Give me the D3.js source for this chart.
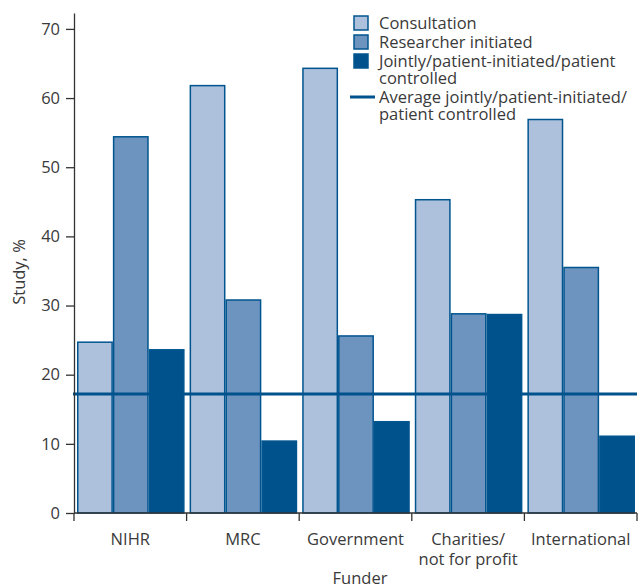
<!DOCTYPE html>
<html>
<head>
<meta charset="utf-8">
<script src="https://cdn.jsdelivr.net/npm/d3@7"></script>
<style>
  body { margin: 0; background: #fff; }
  svg text { font-family: "Open Sans", "DejaVu Sans", sans-serif; fill: #3a3a3a; }
</style>
</head>
<body>
<svg id="chart" width="642" height="588"></svg>
<script>
const funders = ["NIHR", "MRC", "Government", "Charities/\nnot for profit", "International"];
const seriesNames = ["Consultation", "Researcher initiated", "Jointly/patient-initiated/patient controlled"];
const consultation = [24.7, 61.8, 64.3, 45.3, 56.9];
const researcher = [54.4, 30.8, 25.6, 28.8, 35.5];
const jointly = [23.6, 10.4, 13.2, 28.7, 11.1];
const averageJointly = 17.2;
const yTicks = [0, 10, 20, 30, 40, 50, 60, 70];
const legendLabels = [
  ["Consultation"],
  ["Researcher initiated"],
  ["Jointly/patient-initiated/patient", "controlled"],
  ["Average jointly/patient-initiated/", "patient controlled"]
];

const fills = ["#adc0dc", "#6d93bf", "#00528c"];
const strokeCol = "#00558f";
const FS = "16.5px";

const svg = d3.select("#chart");
const x0 = d3.scaleBand().domain(funders).range([74, 637]).paddingInner(0).paddingOuter(0);
const x1 = d3.scaleBand().domain(seriesNames).range([3, x0.bandwidth() - 2]).padding(0);
const y = d3.scaleLinear().domain([0, 72.3]).range([513, 13]);

const series = [consultation, researcher, jointly];
const rows = funders.map((f, i) => ({ f, vals: series.map((s, k) => ({ k, v: s[i] })) }));

// bars
const g = svg.append("g");
g.selectAll("g.grp").data(rows).join("g")
  .attr("transform", d => `translate(${x0(d.f)},0)`)
  .selectAll("rect").data(d => d.vals).join("rect")
  .attr("x", d => x1(seriesNames[d.k]) + 0.75)
  .attr("width", x1.bandwidth() - 1.5)
  .attr("y", d => y(d.v))
  .attr("height", d => y(0) - y(d.v))
  .attr("fill", d => fills[d.k])
  .attr("stroke", strokeCol)
  .attr("stroke-width", 1.5);

// average line
svg.append("line")
  .attr("x1", 73).attr("x2", 637)
  .attr("y1", y(averageJointly)).attr("y2", y(averageJointly))
  .attr("stroke", "#00528c").attr("stroke-width", 3);

// y axis
const yAxis = svg.append("g").attr("transform", "translate(74,0)")
  .call(d3.axisLeft(y).tickValues(yTicks).tickSize(8).tickSizeOuter(0).tickPadding(6));
yAxis.selectAll("text").style("font-size", FS).attr("fill", "#3a3a3a");
yAxis.selectAll("path, line").attr("stroke", "#333").attr("stroke-width", 1.3);

// x axis
const xAxisG = svg.append("g");
xAxisG.append("line").attr("x1", 74).attr("x2", 637).attr("y1", y(0)).attr("y2", y(0))
  .attr("stroke", "#333").attr("stroke-width", 1.3);
const bounds = funders.map(f => x0(f)).concat([x0(funders[funders.length - 1]) + x0.bandwidth()]);
xAxisG.selectAll("line.tick").data(bounds).join("line").attr("class", "tick")
  .attr("x1", d => d).attr("x2", d => d)
  .attr("y1", y(0)).attr("y2", y(0) + 8)
  .attr("stroke", "#333").attr("stroke-width", 1.3);
xAxisG.selectAll("text.lab").data(funders).join("text").attr("class", "lab")
  .attr("text-anchor", "middle")
  .attr("x", d => x0(d) + x0.bandwidth() / 2)
  .attr("y", 545)
  .style("font-size", FS)
  .each(function(d) {
    const parts = d.split("\n");
    d3.select(this).selectAll("tspan").data(parts).join("tspan")
      .attr("x", x0(d) + x0.bandwidth() / 2)
      .attr("dy", (p, i) => i === 0 ? 0 : 20)
      .text(p => p);
  });

// axis titles
svg.append("text").attr("x", 360).attr("y", 584).attr("text-anchor", "middle")
  .style("font-size", FS).text("Funder");
svg.append("text").attr("transform", "translate(25,272) rotate(-90)").attr("text-anchor", "middle")
  .style("font-size", FS).text("Study, %");

// legend
const leg = svg.append("g");
const legY = [29, 48, 67, 103];
const lineH = 17;
legendLabels.forEach((lines, i) => {
  if (i < 3) {
    leg.append("rect").attr("x", 354).attr("y", legY[i] - 13).attr("width", 14).attr("height", 14)
      .attr("fill", fills[i]).attr("stroke", strokeCol).attr("stroke-width", 1.5);
  } else {
    leg.append("line").attr("x1", 350).attr("x2", 375).attr("y1", legY[i] - 6).attr("y2", legY[i] - 6)
      .attr("stroke", "#00528c").attr("stroke-width", 3);
  }
  leg.append("text").attr("x", 379).attr("y", legY[i]).style("font-size", FS)
    .selectAll("tspan").data(lines).join("tspan")
    .attr("x", 379).attr("dy", (t, j) => j === 0 ? 0 : lineH)
    .text(t => t);
});
</script>
</body>
</html>
